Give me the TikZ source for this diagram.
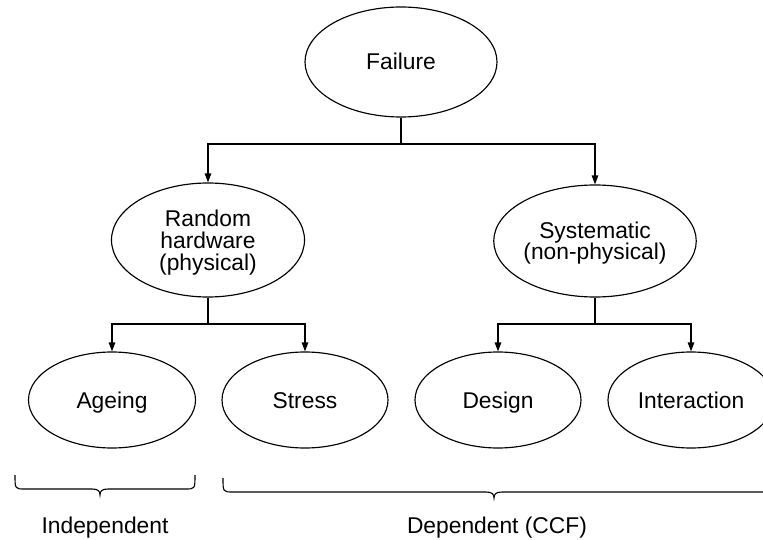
\documentclass[tikz,border=0pt]{standalone}
\usepackage{fontspec}
\setmainfont{Liberation Sans}
\usetikzlibrary{shapes.geometric,arrows.meta}
\begin{document}
\begin{tikzpicture}[x=1bp,y=-1bp,
  line width=1.25bp,
  every node/.style={font=\fontsize{22.8bp}{21.7bp}\selectfont},
  oneline/.style={text height=19bp, text depth=3bp},
  oval/.style={draw, ellipse, inner sep=0pt, align=center, line width=1.15bp},
  big/.style={oval, minimum width=193bp, minimum height=114bp},
  leaf/.style={oval, oneline, minimum width=166bp, minimum height=96bp},
  arr/.style={-{Triangle[length=9bp,width=6.5bp]}},
  lbl/.style={inner sep=0pt, oneline},
]
\useasboundingbox (0,0) rectangle (763,540);
\clip (0,0) rectangle (763,540);

% tree nodes
\node[oval, oneline, minimum width=192bp, minimum height=110bp] (fail) at (401,62) {Failure};
\node[big] (rand) at (208,240) {\rule{0pt}{22bp}Random\\hardware\\(physical)};
\node[big, minimum width=196bp, minimum height=112bp] (sys) at (595,241) {\rule{0pt}{21bp}Systematic\\(non-physical)};
\node[leaf, minimum width=167bp] (age) at (112,400) {Ageing};
\node[leaf] (str) at (305,400) {Stress};
\node[leaf] (des) at (498,400) {Design};
\node[leaf] (int) at (691,400) {Interaction};

% branch points
\coordinate (j1) at (401,144);
\coordinate (j2) at (208,324);
\coordinate (j3) at (595,324);

% connectors
\draw (fail) -- (j1);
\draw[arr] (j1) -| (rand);
\draw[arr] (j1) -| (sys);
\draw (rand) -- (j2);
\draw[arr] (j2) -| (age);
\draw[arr] (j2) -| (str);
\draw (sys) -- (j3);
\draw[arr] (j3) -| (des);
\draw[arr] (j3) -| (int);

% grouping braces
\draw[line width=1.1bp] (15,475) .. controls (15,489) and (15,489) .. (25,489) -- (92,489)
  .. controls (98,489) and (100,491) .. (100,495)
  .. controls (100,491) and (102,489) .. (108,489) -- (185,489)
  .. controls (195,489) and (195,489) .. (195,475);
\draw[line width=1.1bp] (223,478) .. controls (223,492) and (223,492) .. (233,492) -- (486,492)
  .. controls (492,492) and (494,494) .. (494,498)
  .. controls (494,494) and (496,492) .. (502,492) -- (770,492);

% group labels
\node[lbl] (ind) at (105,525) {Independent};
\node[lbl] (dep) at (497,525) {Dependent (CCF)};
\end{tikzpicture}
\end{document}
